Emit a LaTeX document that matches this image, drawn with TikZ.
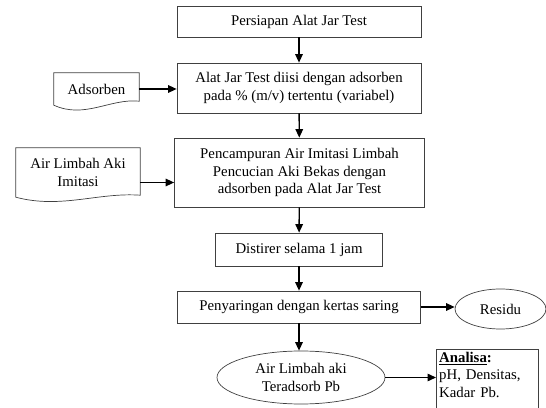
\documentclass[tikz,border=0pt]{standalone}
\usepackage{fontspec}
\setmainfont{Liberation Serif}
\usetikzlibrary{arrows.meta,shapes.geometric}

\begin{document}
\begin{tikzpicture}[x=1pt,y=1pt,font=\fontsize{14.8}{17.5}\selectfont]
	\tikzstyle{box}=[rectangle,draw=black!75,line width=0.7pt,align=center,inner sep=0pt]
	\tikzstyle{doc}=[rectangle,align=center,inner sep=0pt]
	\tikzstyle{docline}=[draw=black!75,line width=0.7pt]
	\tikzstyle{oval}=[ellipse,draw=black!75,line width=0.7pt,align=center,inner sep=0pt]
	\tikzstyle{flow}=[line width=1.4pt,-{Triangle[length=8.5pt,width=7.5pt]}]
	\useasboundingbox (0,0) rectangle (546,407);
	% main column
	\node (persiapan) at (299,385.5) [box,minimum width=244pt,minimum height=31pt] {Persiapan Alat Jar Test};
	\node (diisi) at (299,319) [box,minimum width=244pt,minimum height=50pt]
		{Alat Jar Test diisi dengan adsorben\\pada \% (m/v) tertentu (variabel)};
	\node (campur) at (299.5,234.5) [box,minimum width=250pt,minimum height=69pt]
		{Pencampuran Air Imitasi Limbah\\Pencucian Aki Bekas dengan\\adsorben pada Alat Jar Test};
	\node (stirer) at (299,157.5) [box,minimum width=167pt,minimum height=33pt] {Distirer selama 1 jam};
	\node (saring) at (299,100) [box,minimum width=243pt,minimum height=32pt] {Penyaringan dengan kertas saring};
	\node (teradsorb) at (301,29.5) [oval,minimum width=168pt,minimum height=53pt] {Air Limbah aki\\Teradsorb Pb};
	% side nodes
	\node (residu) at (500.5,98) [oval,minimum width=91pt,minimum height=40pt] {Residu};
	\node (analisa) at (436,58) [anchor=north west,align=left,inner sep=3pt,text width=96pt]
		{\textbf{\underline{Analisa}:}\\pH, Densitas,\\Kadar Pb.};
	\draw [docline] (analisa.north west) rectangle ([yshift=-10pt]analisa.south east);
	\node (ads) at (96.5,318) [doc,minimum width=85pt,minimum height=32pt] {Adsorben};
	\node (limbah) at (78,234.5) [doc,minimum width=124pt,minimum height=49pt] {Air Limbah Aki\\Imitasi};
	\draw [docline] (ads.north west) -- (ads.north east) -- ([yshift=4pt]ads.south east)
		.. controls +(-29,3) and +(31,-14) .. (ads.south west) -- cycle;
	\draw [docline] (limbah.north west) -- (limbah.north east) -- ([yshift=2pt]limbah.south east)
		.. controls +(-42,3) and +(45,-12) .. (limbah.south west) -- cycle;
	% arrows
	\draw [flow] (persiapan) -- (diisi);
	\draw [flow] (diisi) -- (campur);
	\draw [flow] (campur) -- (stirer);
	\draw [flow] (stirer) -- (saring);
	\draw [flow] (saring.south) -- (saring.south |- teradsorb.north);
	\draw [flow] (saring.east) -- (saring.east -| residu.west);
	\draw [flow] (teradsorb.east) -- (teradsorb.east -| analisa.west);
	\draw [flow] (ads.east) -- (ads.east -| diisi.west);
	\draw [flow] ([yshift=-10pt]limbah.east) -- ([yshift=-10pt]limbah.east -| campur.west);
\end{tikzpicture}
\end{document}
